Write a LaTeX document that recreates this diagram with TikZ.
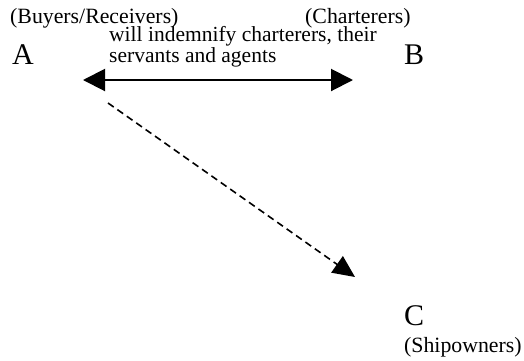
\documentclass[tikz,border=0pt]{standalone}
\usepackage{fontspec}
\setmainfont{Liberation Serif}
\usetikzlibrary{arrows.meta}
\tikzset{
  party/.style={inner sep=0pt, anchor=base west, font=\fontsize{30}{30}\selectfont},
  role/.style={inner sep=0pt, anchor=base west, font=\fontsize{21.8}{21.8}\selectfont},
  note/.style={inner sep=0pt, anchor=base west, align=left, font=\fontsize{21.5}{14.5}\selectfont},
  indemnity/.style={line width=2pt, {Triangle[length=22pt,width=22pt]}-{Triangle[length=22pt,width=22pt]}},
  claim/.style={line width=1.6pt, dash pattern=on 7pt off 4.5pt, -{Triangle[length=22pt,width=20pt]}}
}
\begin{document}
\begin{tikzpicture}[x=1pt, y=-1pt]
  \useasboundingbox (0,0) rectangle (524,360);
  % the three parties
  \node[party] (A) at (12,64) {A};
  \node[party] (B) at (404,64) {B};
  \node[party] (C) at (404,325) {C};
  % their roles
  \node[role] (Arole) at (10,23) {(Buyers/Receivers)};
  \node[role] (Brole) at (305,23) {(Charterers)};
  \node[role] (Crole) at (404,352) {(Shipowners)};
  % the undertaking between A and B (anchored on its last line)
  \node[note] (undertaking) at (109,62) {will indemnify charterers, their\\servants and agents};
  \coordinate (ab-left) at (83,80);
  \coordinate (ab-right) at (353,80);
  \draw[indemnity] (ab-left) -- (ab-right);
  % the claim from A towards C
  \coordinate (ac-start) at (108,103);
  \coordinate (ac-end) at (355,277);
  \draw[claim] (ac-start) -- (ac-end);
\end{tikzpicture}
\end{document}
